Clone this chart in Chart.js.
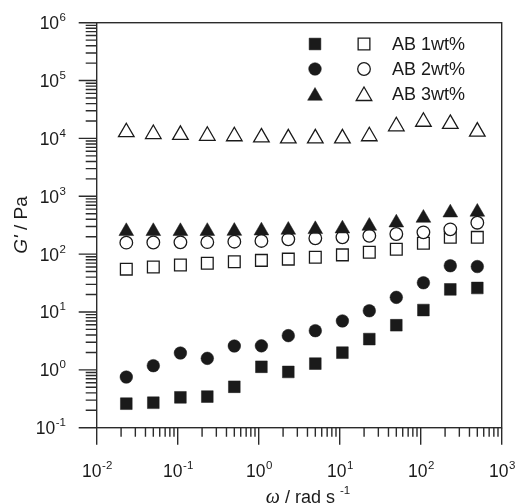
<!DOCTYPE html>
<html>
<head>
<meta charset="utf-8">
<script src="https://cdn.jsdelivr.net/npm/chart.js@4.4.1/dist/chart.umd.min.js"></script>
<style>
  html, body { margin: 0; padding: 0; background: #fff; }
  canvas { display: block; }
</style>
</head>
<body>
<canvas id="gChart" width="517" height="504"></canvas>
<script>
// angular frequency (rad/s)
const omega = [0.0232, 0.05, 0.108, 0.232, 0.5, 1.08, 2.32, 5, 10.8, 23.2, 50, 108, 232, 500];

// G' values (Pa), filled / open symbols
const ab1Filled = [0.26, 0.27, 0.335, 0.345, 0.51, 1.13, 0.92, 1.28, 1.98, 3.4, 5.9, 10.8, 24.6, 26];
const ab1Open   = [55, 60, 65, 69.5, 74, 78, 82, 88, 97, 108, 121, 154, 195, 195];
const ab2Filled = [0.75, 1.18, 1.95, 1.58, 2.58, 2.6, 3.9, 4.75, 7, 10.5, 17.9, 32, 63, 61];
const ab2Open   = [158, 159, 160, 161, 164, 169, 180, 188, 195, 208, 223, 238, 268, 349];
const ab3Filled = [248, 248, 248, 249, 250, 254, 261, 268, 275, 306, 349, 421, 520, 535];
const ab3Open   = [12800, 11900, 11500, 11100, 10900, 10400, 10000, 10000, 10000, 10900, 16200, 19400, 17800, 13100];

const seriesNames = ["AB 1wt%", "AB 2wt%", "AB 3wt%"];

// tick labels as 10^exponent
const xTickExp = ["-2", "-1", "0", "1", "2", "3"];
const yTickExp = ["-1", "0", "1", "2", "3", "4", "5", "6"];

const INK = "#1a1a1a";
const LINE = "#2b2b2b";
const SANS = "'Liberation Sans', Arial, Helvetica, sans-serif";

function pts(ys) {
    return omega.map((x, i) => ({ x: x, y: ys[i] }));
}

function marker(label, ys, style, r, filled) {
    return {
        label: label,
        data: pts(ys),
        pointStyle: style,
        pointRadius: r,
        pointHoverRadius: r,
        backgroundColor: filled ? INK : "#ffffff",
        borderColor: INK,
        borderWidth: filled ? 0.5 : 1.3,
        showLine: false
    };
}

// dataset 0 is painted last (on top)
const datasets = [
    marker(seriesNames[2], ab3Filled, "triangle", 8.5, true),
    marker(seriesNames[2], ab3Open, "triangle", 9, false),
    marker(seriesNames[1], ab2Filled, "circle", 6.3, true),
    marker(seriesNames[1], ab2Open, "circle", 6.3, false),
    marker(seriesNames[0], ab1Filled, "rect", 8.3, true),
    marker(seriesNames[0], ab1Open, "rect", 8.3, false)
];

function drawPow(ctx, exp, x, y, align) {
    ctx.font = "17.5px " + SANS;
    const wb = ctx.measureText("10").width;
    ctx.font = "11.5px " + SANS;
    const we = ctx.measureText(exp).width;
    const start = align === "right" ? x - wb - we - 0.5 : x - (wb + we + 0.5) / 2;
    ctx.textAlign = "left";
    ctx.textBaseline = "alphabetic";
    ctx.font = "17.5px " + SANS;
    ctx.fillText("10", start, y);
    ctx.font = "11.5px " + SANS;
    ctx.fillText(exp, start + wb + 0.5, y - 8);
}

const axesPlugin = {
    id: "axesPlugin",
    afterDraw(chart) {
        const ctx = chart.ctx;
        const a = chart.chartArea;
        const xs = chart.scales.x, ys = chart.scales.y;
        ctx.save();
        ctx.strokeStyle = LINE;
        ctx.fillStyle = INK;
        ctx.lineWidth = 1.4;

        // frame
        ctx.strokeRect(a.left, a.top, a.right - a.left, a.bottom - a.top);

        // y ticks (outside, to the left)
        ctx.beginPath();
        for (let e = -1; e <= 6; e++) {
            const p = ys.getPixelForValue(Math.pow(10, e));
            ctx.moveTo(a.left, p); ctx.lineTo(a.left - 18, p);
            if (e < 6) {
                for (let k = 2; k <= 9; k++) {
                    const q = ys.getPixelForValue(k * Math.pow(10, e));
                    ctx.moveTo(a.left, q); ctx.lineTo(a.left - 11, q);
                }
            }
        }
        // x ticks (outside, below)
        for (let e = -2; e <= 3; e++) {
            const p = xs.getPixelForValue(Math.pow(10, e));
            ctx.moveTo(p, a.bottom); ctx.lineTo(p, a.bottom + 17);
            if (e < 3) {
                for (let k = 2; k <= 9; k++) {
                    const q = xs.getPixelForValue(k * Math.pow(10, e));
                    ctx.moveTo(q, a.bottom); ctx.lineTo(q, a.bottom + 9);
                }
            }
        }
        ctx.stroke();

        // tick labels
        yTickExp.forEach(ex => {
            const p = ys.getPixelForValue(Math.pow(10, Number(ex)));
            drawPow(ctx, ex, 66, p + 6.5, "right");
        });
        xTickExp.forEach(ex => {
            const p = xs.getPixelForValue(Math.pow(10, Number(ex)));
            drawPow(ctx, ex, p + 0.5, a.bottom + 49, "center");
        });

        // x title
        ctx.textBaseline = "alphabetic";
        ctx.textAlign = "left";
        const f1 = "italic 20px 'Liberation Serif', serif";
        const f2 = "18px " + SANS;
        const f3 = "11.5px " + SANS;
        ctx.font = f1; const w1 = ctx.measureText("\u03c9").width;
        ctx.font = f2; const w2 = ctx.measureText(" / rad s ").width;
        ctx.font = f3; const w3 = ctx.measureText("-1").width;
        const sx = 308 - (w1 + w2 + w3) / 2;
        ctx.font = f1; ctx.fillText("\u03c9", sx, 503);
        ctx.font = f2; ctx.fillText(" / rad s ", sx + w1, 503);
        ctx.font = f3; ctx.fillText("-1", sx + w1 + w2, 494);

        // y title
        ctx.save();
        ctx.translate(27, 225);
        ctx.rotate(-Math.PI / 2);
        const g1 = "italic 19px " + SANS;
        const g2 = "19px " + SANS;
        ctx.font = g1; const v1 = ctx.measureText("G'").width;
        ctx.font = g2; const v2 = ctx.measureText(" / Pa").width;
        const sy = -(v1 + v2) / 2;
        ctx.font = g1; ctx.fillText("G'", sy, 0);
        ctx.font = g2; ctx.fillText(" / Pa", sy + v1, 0);
        ctx.restore();

        // legend: filled symbol, open symbol, label
        const rows = [
            [datasets[4], datasets[5], 44],
            [datasets[2], datasets[3], 69],
            [datasets[0], datasets[1], 94]
        ];
        rows.forEach((row, i) => {
            [row[0], row[1]].forEach((ds, j) => {
                ctx.fillStyle = ds.backgroundColor;
                ctx.strokeStyle = ds.borderColor;
                ctx.lineWidth = ds.borderWidth;
                Chart.helpers.drawPoint(ctx, {
                    pointStyle: ds.pointStyle,
                    radius: ds.pointRadius,
                    rotation: 0,
                    borderWidth: ds.borderWidth
                }, j === 0 ? 315 : 364, row[2] + (ds.pointStyle === "triangle" ? 2 : 0));
            });
            ctx.fillStyle = INK;
            ctx.font = "18px " + SANS;
            ctx.textBaseline = "middle";
            ctx.fillText(seriesNames[i], 392, row[2] + 1);
        });

        ctx.restore();
    }
};

const ctx = document.getElementById("gChart").getContext("2d");
new Chart(ctx, {
    type: "scatter",
    data: { datasets: datasets },
    options: {
        responsive: false,
        devicePixelRatio: 1,
        animation: false,
        layout: { padding: { left: 96.7, top: 22.7, right: 15.3, bottom: 76.3 } },
        plugins: {
            legend: { display: false },
            tooltip: { enabled: false }
        },
        scales: {
            x: { type: "logarithmic", min: 0.01, max: 1000, display: false },
            y: { type: "logarithmic", min: 0.1, max: 1000000, display: false }
        }
    },
    plugins: [axesPlugin]
});
</script>
</body>
</html>
